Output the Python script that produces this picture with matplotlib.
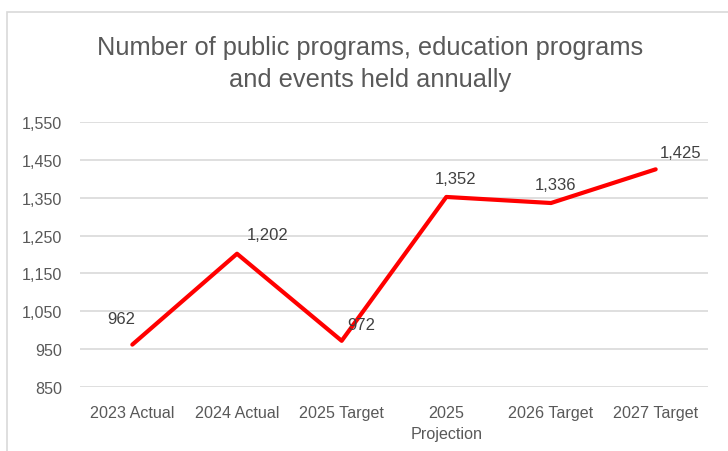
import matplotlib
matplotlib.use("Agg")
import matplotlib.pyplot as plt
from matplotlib.patches import Rectangle
from matplotlib.ticker import FuncFormatter

categories = ["2023 Actual", "2024 Actual", "2025 Target", "2025\nProjection", "2026 Target", "2027 Target"]
values = [962, 1202, 972, 1352, 1336, 1425]
y_ticks = [850, 950, 1050, 1150, 1250, 1350, 1450, 1550]

# label offsets in points (x, y), like Excel's label placement
label_offsets = [(-8, 19), (22, 14), (14, 12), (7, 13), (3, 13), (18, 12)]

plt.rcParams['font.family'] = ['Liberation Sans', 'DejaVu Sans']
grey = "#595959"

fig = plt.figure(figsize=(7.28, 4.52), dpi=100)
fig.patches.append(Rectangle((7 / 728, -0.05), 1.0, 1 - 13 / 452 + 0.05, transform=fig.transFigure,
                             fill=False, edgecolor="#d9d9d9", linewidth=1.2))

ax = fig.add_axes([80 / 728, 1 - 388 / 452, 628 / 728, 265 / 452])
x = list(range(len(categories)))
ax.plot(x, values, color="#ff0000", linewidth=3, solid_capstyle="round", solid_joinstyle="round", zorder=3)

for xi, v, off in zip(x, values, label_offsets):
    ax.annotate(f"{v:,}", (xi, v), xytext=off, textcoords="offset points",
                ha="center", va="center", fontsize=12, color="#404040", zorder=4)

ax.set_xlim(-0.5, len(categories) - 0.5)
ax.set_ylim(850, 1550)
ax.set_yticks(y_ticks)
ax.yaxis.set_major_formatter(FuncFormatter(lambda v, p: f"{int(v):,}"))
ax.set_xticks(x)
ax.set_xticklabels(categories, linespacing=1.5)
ax.grid(axis="y", color="#d9d9d9", linewidth=1.2)
ax.set_axisbelow(True)
for s in ax.spines.values():
    s.set_visible(False)
ax.tick_params(length=0, labelsize=11.6, colors=grey)
ax.tick_params(axis="y", pad=13)
ax.tick_params(axis="x", pad=13)

fig.text(370 / 728, 1 - 64 / 452, "Number of public programs, education programs\nand events held annually",
         ha="center", va="center", fontsize=18.3, color=grey, linespacing=1.45)

fig.savefig("out.png", dpi=100)
